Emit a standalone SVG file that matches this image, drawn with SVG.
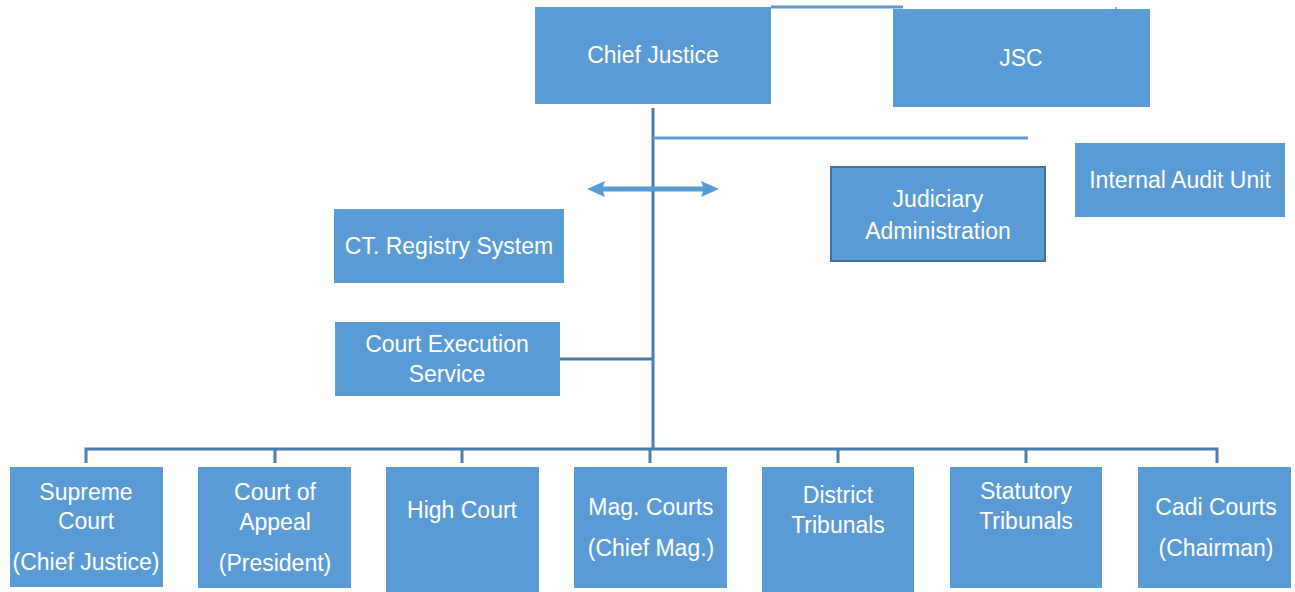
<svg xmlns="http://www.w3.org/2000/svg" width="1295" height="592" viewBox="0 0 1295 592">
  <style>
    .box { fill: #5b9bd5; }
    .boxed { fill: #5b9bd5; stroke: #41719c; stroke-width: 2; }
    .lbl { font-family: "Liberation Sans", Arial, sans-serif; font-size: 23px; fill: #ffffff; text-anchor: middle; }
    .trunk { stroke: #4a7eb0; stroke-width: 3; fill: none; }
    .link { stroke: #5b9bd5; stroke-width: 3; fill: none; }
    .arrow { fill: #5b9bd5; }
  </style>

  <rect width="1295" height="592" fill="#ffffff"/>

  <!-- connectors -->
  <g id="connectors">
    <line class="link" x1="771" y1="7" x2="903" y2="7"/>
    <line class="link" x1="1116" y1="7" x2="1116" y2="11" style="stroke-width:1.5"/>
    <line class="trunk" x1="653" y1="108" x2="653" y2="450"/>
    <line class="link" x1="653" y1="138" x2="1028" y2="138"/>
    <!-- two-headed arrow across the trunk -->
    <polygon class="arrow" points="587,189 605,181 603,186.5 703,186.5 701,181 719,189 701,197 703,191.5 603,191.5 605,197"/>
    <line class="trunk" x1="560" y1="359" x2="653" y2="359"/>
    <polyline class="trunk" points="86,463 86,449 1217,449 1217,463"/>
    <line class="trunk" x1="275" y1="449" x2="275" y2="463"/>
    <line class="trunk" x1="462" y1="449" x2="462" y2="463"/>
    <line class="trunk" x1="650" y1="449" x2="650" y2="463"/>
    <line class="trunk" x1="838" y1="449" x2="838" y2="463"/>
    <line class="trunk" x1="1026" y1="449" x2="1026" y2="463"/>
  </g>

  <g id="chief-justice">
    <rect class="box" x="535" y="7" width="236" height="97"/>
    <text class="lbl" x="653" y="63">Chief Justice</text>
  </g>
  <g id="jsc">
    <rect class="box" x="893" y="9" width="257" height="98"/>
    <text class="lbl" x="1021" y="66">JSC</text>
  </g>
  <g id="internal-audit">
    <rect class="box" x="1075" y="143" width="210" height="74"/>
    <text class="lbl" x="1180" y="188">Internal Audit Unit</text>
  </g>
  <g id="judiciary-admin">
    <rect class="boxed" x="831" y="167" width="214" height="94"/>
    <text class="lbl" x="938" y="207">Judiciary</text>
    <text class="lbl" x="938" y="239">Administration</text>
  </g>
  <g id="registry">
    <rect class="box" x="334" y="209" width="230" height="74"/>
    <text class="lbl" x="449" y="254">CT. Registry System</text>
  </g>
  <g id="execution">
    <rect class="box" x="335" y="322" width="225" height="74"/>
    <text class="lbl" x="447" y="352">Court Execution</text>
    <text class="lbl" x="447" y="382">Service</text>
  </g>

  <g id="supreme-court">
    <rect class="box" x="10" y="467" width="153" height="120"/>
    <text class="lbl" x="86" y="500">Supreme</text>
    <text class="lbl" x="86" y="529">Court</text>
    <text class="lbl" x="86" y="570">(Chief Justice)</text>
  </g>
  <g id="court-of-appeal">
    <rect class="box" x="198" y="467" width="153" height="121"/>
    <text class="lbl" x="275" y="500">Court of</text>
    <text class="lbl" x="275" y="530">Appeal</text>
    <text class="lbl" x="275" y="571">(President)</text>
  </g>
  <g id="high-court">
    <rect class="box" x="386" y="467" width="153" height="125"/>
    <text class="lbl" x="462" y="518">High Court</text>
  </g>
  <g id="mag-courts">
    <rect class="box" x="574" y="467" width="153" height="121"/>
    <text class="lbl" x="651" y="515">Mag. Courts</text>
    <text class="lbl" x="651" y="556">(Chief Mag.)</text>
  </g>
  <g id="district-tribunals">
    <rect class="box" x="762" y="467" width="152" height="125"/>
    <text class="lbl" x="838" y="503">District</text>
    <text class="lbl" x="838" y="533">Tribunals</text>
  </g>
  <g id="statutory-tribunals">
    <rect class="box" x="950" y="467" width="152" height="121"/>
    <text class="lbl" x="1026" y="499">Statutory</text>
    <text class="lbl" x="1026" y="529">Tribunals</text>
  </g>
  <g id="cadi-courts">
    <rect class="box" x="1138" y="467" width="153" height="121"/>
    <text class="lbl" x="1216" y="515">Cadi Courts</text>
    <text class="lbl" x="1216" y="556">(Chairman)</text>
  </g>
</svg>
